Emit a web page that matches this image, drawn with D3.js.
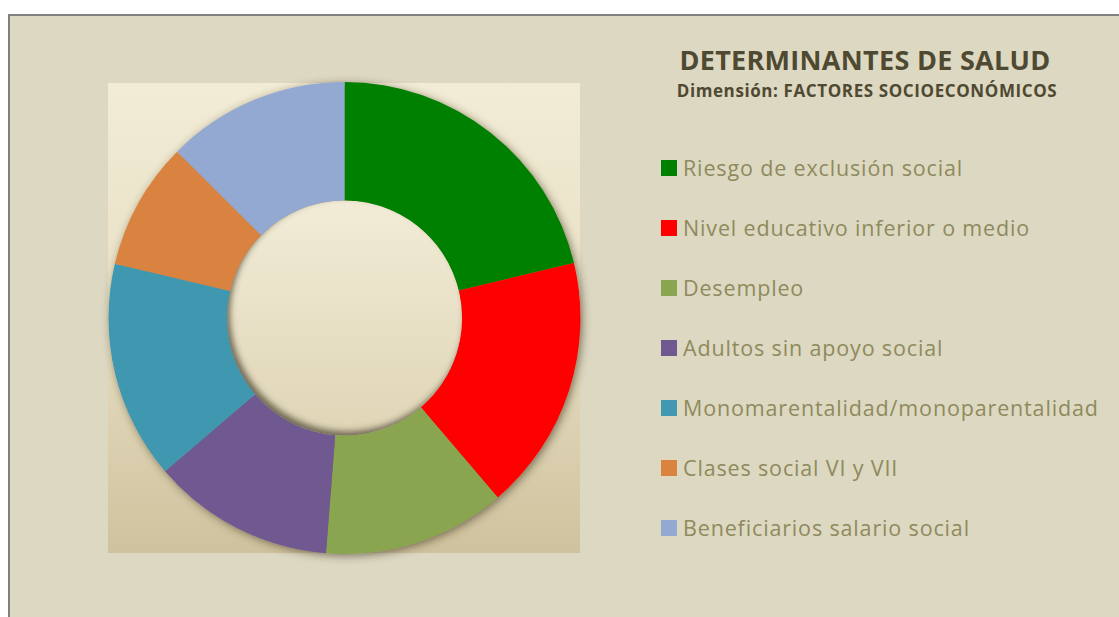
<!DOCTYPE html>
<html>
<head>
<meta charset="utf-8">
<script src="https://cdn.jsdelivr.net/npm/d3@7"></script>
<style>
  body { margin: 0; background: #ffffff; }
  svg { display: block; }
</style>
</head>
<body>
<svg id="chart" width="1119" height="617"></svg>
<script>
// data (shares of the circle, %)
var categories = [
  'Riesgo de exclusión social',
  'Nivel educativo inferior o medio',
  'Desempleo',
  'Adultos sin apoyo social',
  'Monomarentalidad/monoparentalidad',
  'Clases social VI y VII',
  'Beneficiarios salario social'
];
var values = [21.25, 17.5, 12.5, 12.5, 14.95, 8.75, 12.55];
var colors = ['#008000', '#ff0000', '#8aa54f', '#705890', '#4198b0', '#da833f', '#93a9d1'];

var title = 'DETERMINANTES DE SALUD';
var subtitle = 'Dimensión: FACTORES SOCIOECONÓMICOS';

var svg = d3.select('#chart');
var defs = svg.append('defs');

// chart frame
svg.append('rect')
  .attr('x', 9).attr('y', 15)
  .attr('width', 1130).attr('height', 620)
  .attr('fill', '#ddd8c2')
  .attr('stroke', '#808080')
  .attr('stroke-width', 2);

// plot area gradient
var plotGrad = defs.append('linearGradient')
  .attr('id', 'plotGrad').attr('x1', 0).attr('y1', 0).attr('x2', 0).attr('y2', 1);
plotGrad.append('stop').attr('offset', '0%').attr('stop-color', '#f2ecd6');
plotGrad.append('stop').attr('offset', '45%').attr('stop-color', '#e9e1c6');
plotGrad.append('stop').attr('offset', '100%').attr('stop-color', '#cfc29e');

var holeGrad = defs.append('linearGradient')
  .attr('id', 'holeGrad').attr('x1', 0).attr('y1', 0).attr('x2', 0).attr('y2', 1);
holeGrad.append('stop').attr('offset', '0%').attr('stop-color', '#f2ecd7');
holeGrad.append('stop').attr('offset', '100%').attr('stop-color', '#dfd5b6');

var shadow = defs.append('filter').attr('id', 'ringShadow')
  .attr('x', '-20%').attr('y', '-20%').attr('width', '140%').attr('height', '140%');
shadow.append('feDropShadow')
  .attr('dx', 2).attr('dy', 2).attr('stdDeviation', 4)
  .attr('flood-color', '#3a3320').attr('flood-opacity', 0.6);

var blur = defs.append('filter').attr('id', 'innerBlur')
  .attr('x', '-20%').attr('y', '-20%').attr('width', '140%').attr('height', '140%');
blur.append('feGaussianBlur').attr('stdDeviation', 3);

var plot = {x: 108, y: 83, w: 472, h: 470};
svg.append('rect')
  .attr('x', plot.x).attr('y', plot.y)
  .attr('width', plot.w).attr('height', plot.h)
  .attr('fill', 'url(#plotGrad)');

var cx = 344.5, cy = 318;
var outerR = 236, innerR = 117.5;

var pie = d3.pie().sort(null).value(function(d) { return d; });
var arc = d3.arc().innerRadius(innerR).outerRadius(outerR);

var g = svg.append('g').attr('transform', 'translate(' + cx + ',' + cy + ')');

var ring = g.append('g').attr('filter', 'url(#ringShadow)');
ring.selectAll('path')
  .data(pie(values))
  .enter()
  .append('path')
  .attr('d', arc)
  .attr('fill', function(d, i) { return colors[i]; });

// hole with inner shadow
defs.append('clipPath').attr('id', 'holeClip')
  .append('circle').attr('cx', 0).attr('cy', 0).attr('r', innerR);

var hole = g.append('g').attr('clip-path', 'url(#holeClip)');
hole.append('circle')
  .attr('r', innerR)
  .attr('fill', 'url(#holeGrad)');
hole.append('circle')
  .attr('cx', 3).attr('cy', -4)
  .attr('r', innerR + 10)
  .attr('fill', 'none')
  .attr('stroke', '#4a4330')
  .attr('stroke-opacity', 0.75)
  .attr('stroke-width', 20)
  .attr('filter', 'url(#innerBlur)');

// titles
svg.append('text')
  .attr('x', 865).attr('y', 70)
  .attr('text-anchor', 'middle')
  .attr('font-family', '"Open Sans", sans-serif')
  .attr('font-weight', 'bold')
  .attr('font-size', 27)
  .attr('letter-spacing', 0.3)
  .attr('fill', '#4f4931')
  .text(title);

svg.append('text')
  .attr('x', 867).attr('y', 97)
  .attr('text-anchor', 'middle')
  .attr('font-family', '"Open Sans", sans-serif')
  .attr('font-weight', 'bold')
  .attr('font-size', 17)
  .attr('letter-spacing', 0.6)
  .attr('fill', '#4f4931')
  .text(subtitle);

// legend
var legendY = d3.scaleBand()
  .domain(categories)
  .range([138, 558]);

var legend = svg.selectAll('g.legend')
  .data(categories)
  .enter()
  .append('g')
  .attr('class', 'legend')
  .attr('transform', function(d) {
    return 'translate(661,' + (legendY(d) + legendY.bandwidth() / 2) + ')';
  });

legend.append('rect')
  .attr('x', 0).attr('y', -8)
  .attr('width', 16).attr('height', 16)
  .attr('fill', function(d, i) { return colors[i]; });

legend.append('text')
  .attr('x', 22).attr('y', 8)
  .attr('font-family', '"Open Sans", sans-serif')
  .attr('font-size', 21.5)
  .attr('letter-spacing', 0.85)
  .attr('fill', '#8e8a5c')
  .text(function(d) { return d; });
</script>
</body>
</html>
